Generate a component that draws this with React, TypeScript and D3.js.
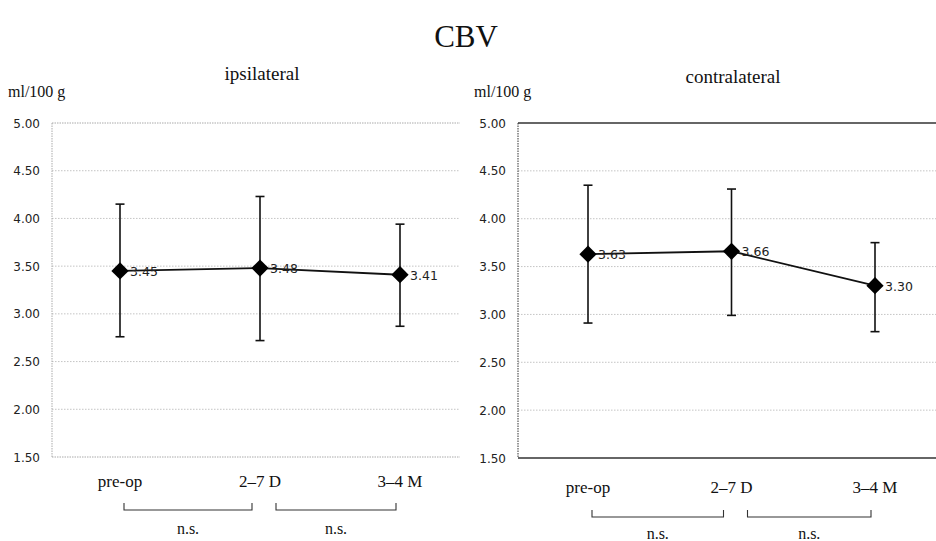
import React from "react";
import * as d3 from "d3";

// time points and values
const categories = ["pre-op", "2–7 D", "3–4 M"];
const yTicks = [1.5, 2.0, 2.5, 3.0, 3.5, 4.0, 4.5, 5.0];

const ipsiMean = [3.45, 3.48, 3.41];
const ipsiUpper = [4.15, 4.23, 3.94];
const ipsiLower = [2.76, 2.72, 2.87];

const contraMean = [3.63, 3.66, 3.3];
const contraUpper = [4.35, 4.31, 3.75];
const contraLower = [2.91, 2.99, 2.82];

const significance = ["n.s.", "n.s."];

const serif = "'Liberation Serif', 'DejaVu Serif', serif";
const sans = "'DejaVu Sans', Verdana, sans-serif";

type PanelProps = {
  title: string;
  titleY: number;
  left: number;
  right: number;
  top: number;
  bottom: number;
  padL: number;
  padR: number;
  mean: number[];
  upper: number[];
  lower: number[];
  solidFrame: boolean;
  xLabelY: number;
  bracketY: number;
  nsY: number;
};

function Panel(p: PanelProps) {
  const y = d3.scaleLinear().domain([1.5, 5.0]).range([p.bottom, p.top]);
  const x = d3
    .scalePoint<string>()
    .domain(categories)
    .range([p.left + p.padL, p.right - p.padR]);

  const line = d3
    .line<number>()
    .x((d, i) => x(categories[i]) as number)
    .y((d) => y(d));

  const diamond = d3.symbol().type(d3.symbolDiamond2).size(190)();

  const frameColor = p.solidFrame ? "#333" : "#aaa";

  return (
    <g>
      <text x={(p.left + p.right) / 2 + 6} y={p.titleY} textAnchor="middle" fontFamily={serif} fontSize={19} fill="#111">
        {p.title}
      </text>
      <text x={p.left - 44} y={97} fontFamily={serif} fontSize={16} fill="#111">
        ml/100 g
      </text>

      {yTicks.map((t) => (
        <g key={t}>
          <line
            x1={p.left}
            x2={p.right}
            y1={y(t)}
            y2={y(t)}
            stroke={t === 5 || t === 1.5 ? frameColor : "#b5b5b5"}
            strokeWidth={t === 5 || t === 1.5 ? (p.solidFrame ? 1.3 : 1) : 0.8}
            strokeDasharray={t === 5 || t === 1.5 ? (p.solidFrame ? "none" : "1.5,1") : "1.5,1.5"}
          />
          <text x={p.left - 12} y={y(t) + 4.5} textAnchor="end" fontFamily={sans} fontSize={12} fill="#222">
            {t.toFixed(2)}
          </text>
        </g>
      ))}
      <line x1={p.left} x2={p.left} y1={p.top} y2={p.bottom} stroke={frameColor} strokeWidth={1} strokeDasharray="1.5,1" />

      {categories.map((c, i) => (
        <g key={c}>
          <line x1={x(c)} x2={x(c)} y1={y(p.upper[i])} y2={y(p.lower[i])} stroke="#111" strokeWidth={1.6} />
          <line x1={(x(c) as number) - 4.5} x2={(x(c) as number) + 4.5} y1={y(p.upper[i])} y2={y(p.upper[i])} stroke="#111" strokeWidth={1.6} />
          <line x1={(x(c) as number) - 4.5} x2={(x(c) as number) + 4.5} y1={y(p.lower[i])} y2={y(p.lower[i])} stroke="#111" strokeWidth={1.6} />
        </g>
      ))}

      <path d={line(p.mean) || ""} fill="none" stroke="#111" strokeWidth={1.8} />

      {categories.map((c, i) => (
        <g key={c}>
          <path d={diamond || ""} transform={`translate(${x(c)},${y(p.mean[i])})`} fill="#000" />
          <text x={(x(c) as number) + 10} y={y(p.mean[i]) + 5} fontFamily={sans} fontSize={12.5} fill="#222">
            {p.mean[i].toFixed(2)}
          </text>
          <text x={x(c)} y={p.xLabelY} textAnchor="middle" fontFamily={serif} fontSize={17} fill="#111">
            {c}
          </text>
        </g>
      ))}

      {significance.map((s, i) => {
        const a = (x(categories[i]) as number) + 4;
        const b = (x(categories[i + 1]) as number) - (i === 0 ? 8 : 4);
        const a2 = i === 0 ? a : a + 12;
        return (
          <g key={i}>
            <path
              d={`M${a2},${p.bracketY - 7}V${p.bracketY}H${b}V${p.bracketY - 7}`}
              fill="none"
              stroke="#333"
              strokeWidth={1.1}
            />
            <text x={(a2 + b) / 2} y={p.nsY} textAnchor="middle" fontFamily={serif} fontSize={16} fill="#111">
              {s}
            </text>
          </g>
        );
      })}
    </g>
  );
}

export default function App() {
  return (
    <svg width={936} height={541} style={{ position: "absolute", left: 0, top: 0, background: "#fff" }}>
      <text x={466} y={47} textAnchor="middle" fontFamily={serif} fontSize={31} fill="#111">
        CBV
      </text>
      <Panel
        title="ipsilateral"
        titleY={80}
        left={52}
        right={460}
        top={123}
        bottom={457}
        padL={68}
        padR={60}
        mean={ipsiMean}
        upper={ipsiUpper}
        lower={ipsiLower}
        solidFrame={false}
        xLabelY={487}
        bracketY={510}
        nsY={534}
      />
      <Panel
        title="contralateral"
        titleY={83}
        left={518}
        right={936}
        top={123}
        bottom={458}
        padL={70}
        padR={61}
        mean={contraMean}
        upper={contraUpper}
        lower={contraLower}
        solidFrame={true}
        xLabelY={493}
        bracketY={517}
        nsY={539}
      />
    </svg>
  );
}
